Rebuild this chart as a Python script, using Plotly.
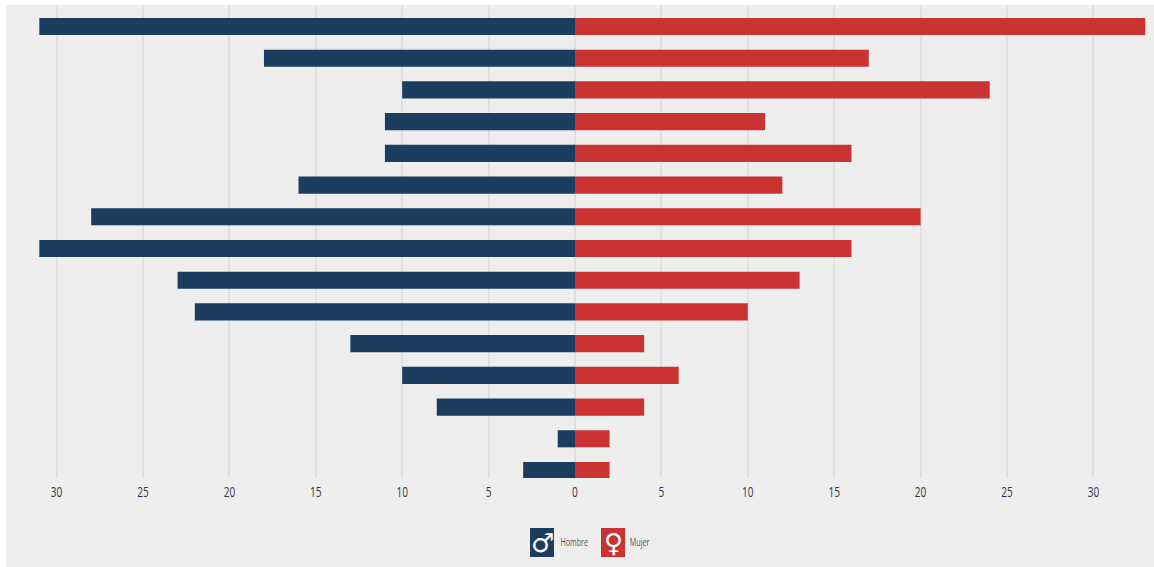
"""Population pyramid style chart, Hombre vs Mujer."""

import plotly.graph_objects as go

groups = list(range(1, 16))
hombre = [31, 18, 10, 11, 11, 16, 28, 31, 23, 22, 13, 10, 8, 1, 3]
mujer = [33, 17, 24, 11, 16, 12, 20, 16, 13, 10, 4, 6, 4, 2, 2]
tick_vals = [-30, -25, -20, -15, -10, -5, 0, 5, 10, 15, 20, 25, 30]
tick_text = ["30", "25", "20", "15", "10", "5", "0", "5", "10", "15", "20", "25", "30"]

BLUE = "#1b3d5f"
RED = "#cb3333"
PANEL = "#eeeeee"
FONT = "Open Sans, sans-serif"

WIDTH, HEIGHT = 1154, 567
LEFT, TOP, BOTTOM = 6, 5, 89
SCALE = 17.28  # pixels per person on the x axis
plot_w = WIDTH - LEFT
plot_h = HEIGHT - TOP - BOTTOM

# drop the page margin and squeeze the labels, the original face is condensed
PAGE_SCRIPT = """
document.body.style.margin = '0';
function squeeze() {
    document.querySelectorAll('.xtick text, .annotation-text').forEach(function (t) {
        if (t.textContent.length < 2 && !t.closest('.xtick')) return;
        if (t.hasAttribute('textLength')) return;
        t.setAttribute('textLength', t.getComputedTextLength() * 0.72);
        t.setAttribute('lengthAdjust', 'spacingAndGlyphs');
    });
}
squeeze();
setTimeout(squeeze, 50);
"""


def px_x(px):
    return (px - LEFT) / plot_w


def px_y(px):
    return 1 - (px - TOP) / plot_h


fig = go.Figure()
fig.add_trace(go.Bar(y=groups, x=[-v for v in hombre], name="Hombre", orientation="h",
                     marker=dict(color=BLUE, line=dict(width=0))))
fig.add_trace(go.Bar(y=groups, x=mujer, name="Mujer", orientation="h",
                     marker=dict(color=RED, line=dict(width=0))))

shapes = [
    # grey panel runs past the plot area, down under the legend
    dict(type="rect", xref="paper", yref="paper", x0=0, x1=1, y0=px_y(HEIGHT), y1=1,
         fillcolor=PANEL, line_width=0, layer="below"),
]
annotations = []
legend_items = [("Hombre", "♂", BLUE, 530), ("Mujer", "♀", RED, 601)]
for label, symbol, color, x_px in legend_items:
    shapes.append(dict(type="rect", xref="paper", yref="paper",
                       x0=px_x(x_px), x1=px_x(x_px + 24), y0=px_y(557), y1=px_y(528),
                       fillcolor=color, line_width=0, layer="above"))
    annotations.append(dict(xref="paper", yref="paper", x=px_x(x_px + 12), y=px_y(542.5),
                            text=symbol, showarrow=False, xanchor="center", yanchor="middle",
                            font=dict(family="DejaVu Sans", size=26, color="white")))
    annotations.append(dict(xref="paper", yref="paper", x=px_x(x_px + 23), y=px_y(542),
                            text=label, showarrow=False, xanchor="left", yanchor="middle",
                            font=dict(family=FONT, size=10, color="#555555")))

fig.update_layout(
    width=WIDTH,
    height=HEIGHT,
    autosize=False,
    barmode="overlay",
    bargap=0.46,
    showlegend=False,
    paper_bgcolor="white",
    plot_bgcolor="rgba(0,0,0,0)",
    margin=dict(l=LEFT, r=0, t=TOP, b=BOTTOM),
    shapes=shapes,
    annotations=annotations,
    font=dict(family=FONT),
)
fig.update_xaxes(
    range=[(LEFT - 575) / SCALE, (WIDTH - 575) / SCALE],
    tickmode="array",
    tickvals=tick_vals,
    ticktext=tick_text,
    ticks="",
    ticklabelstandoff=4,
    tickfont=dict(family=FONT, size=14, color="#333344"),
    showgrid=True,
    gridcolor="#e0e0e0",
    gridwidth=2,
    zeroline=False,
    showline=False,
)
fig.update_yaxes(
    type="linear",
    range=[15 + (478 - 470.5) / 31.7, 1 - (26.5 - TOP) / 31.7],
    showticklabels=False,
    ticks="",
    showgrid=False,
    zeroline=False,
    showline=False,
)

fig.write_html("out.html", config=dict(displayModeBar=False), post_script=PAGE_SCRIPT)
